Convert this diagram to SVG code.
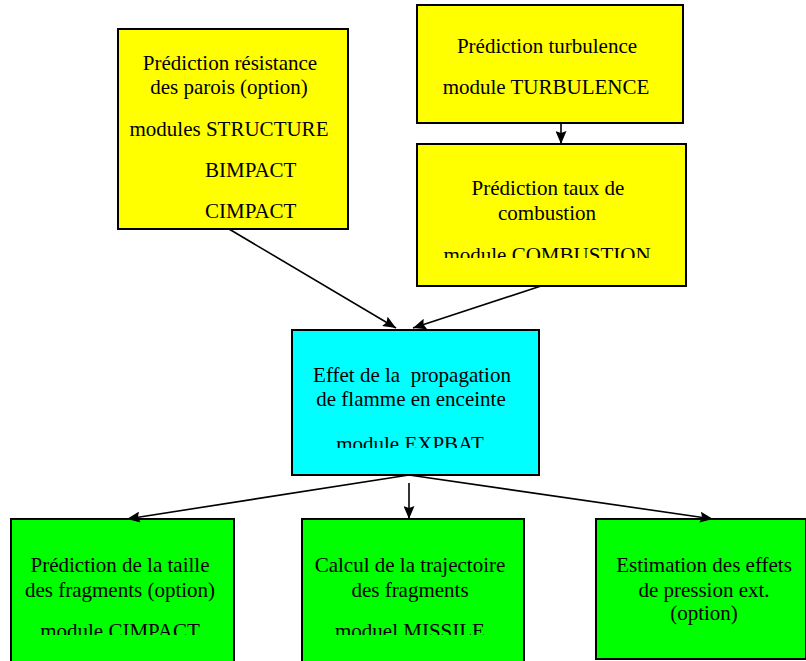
<svg xmlns="http://www.w3.org/2000/svg" width="806" height="661" viewBox="0 0 806 661">
<style>
.box{stroke:#000;stroke-width:2}
.y{fill:#ffff00}.c{fill:#00ffff}.g{fill:#00ff00}
text{font-family:"Liberation Serif","Times New Roman",serif;font-size:21px;fill:#000;text-anchor:middle;white-space:pre}
.l{text-anchor:start}
.ln{stroke:#000;stroke-width:1.6;fill:none}
</style>
<defs>
<marker id="ah" viewBox="0 0 13 11" refX="13" refY="5.5" markerWidth="13" markerHeight="11" markerUnits="userSpaceOnUse" orient="auto">
<path d="M0,0 L13,5.5 L0,11 L2,5.5 Z" fill="#000"/>
</marker>
<clipPath id="cpComb"><rect x="417" y="144" width="269" height="114"/></clipPath>
<clipPath id="cpExp"><rect x="292" y="330" width="247" height="118"/></clipPath>
<clipPath id="cpBot"><rect x="0" y="519" width="806" height="116"/></clipPath>
</defs>
<g id="resistance">
<rect class="box y" x="118" y="29" width="230" height="200"/>
<text x="230" y="70">Prédiction résistance</text>
<text x="229" y="94">des parois (option)</text>
<text x="229" y="136">modules STRUCTURE</text>
<text class="l" x="205" y="177">BIMPACT</text>
<text class="l" x="205" y="218">CIMPACT</text>
</g>
<g id="turbulence">
<rect class="box y" x="417" y="5" width="266" height="118"/>
<text x="547" y="53">Prédiction turbulence</text>
<text x="546" y="94">module TURBULENCE</text>
</g>
<g id="combustion">
<rect class="box y" x="417" y="144" width="269" height="142"/>
<text x="548" y="195">Prédiction taux de</text>
<text x="547" y="220">combustion</text>
<text x="547" y="262" clip-path="url(#cpComb)">module COMBUSTION</text>
</g>
<g id="expbat">
<rect class="box c" x="292" y="330" width="247" height="145"/>
<text x="412" y="382" xml:space="preserve">Effet de la  propagation</text>
<text x="411" y="406">de flamme en enceinte</text>
<text x="410" y="451" clip-path="url(#cpExp)">module EXPBAT</text>
</g>
<g id="cimpact">
<rect class="box g" x="11" y="519" width="223" height="160"/>
<text x="120" y="572">Prédiction de la taille</text>
<text x="120" y="597">des fragments (option)</text>
<text x="120" y="638" clip-path="url(#cpBot)">module CIMPACT</text>
</g>
<g id="missile">
<rect class="box g" x="302" y="519" width="222" height="160"/>
<text x="410" y="572">Calcul de la trajectoire</text>
<text x="410" y="597">des fragments</text>
<text x="410" y="638" clip-path="url(#cpBot)">moduel MISSILE</text>
</g>
<g id="pression">
<rect class="box g" x="596" y="519" width="210" height="140"/>
<text x="704" y="572">Estimation des effets</text>
<text x="704" y="597">de pression ext.</text>
<text x="704" y="620">(option)</text>
</g>
<g id="connectors">
<line class="ln" x1="561" y1="123" x2="561" y2="144" marker-end="url(#ah)"/>
<line class="ln" x1="229" y1="229" x2="396" y2="328" marker-end="url(#ah)"/>
<line class="ln" x1="541" y1="286" x2="413" y2="328" marker-end="url(#ah)"/>
<line class="ln" x1="409" y1="475" x2="127" y2="519" marker-end="url(#ah)"/>
<line class="ln" x1="409" y1="483" x2="409" y2="519" marker-end="url(#ah)"/>
<line class="ln" x1="409" y1="475" x2="713" y2="519" marker-end="url(#ah)"/>
</g>
</svg>
